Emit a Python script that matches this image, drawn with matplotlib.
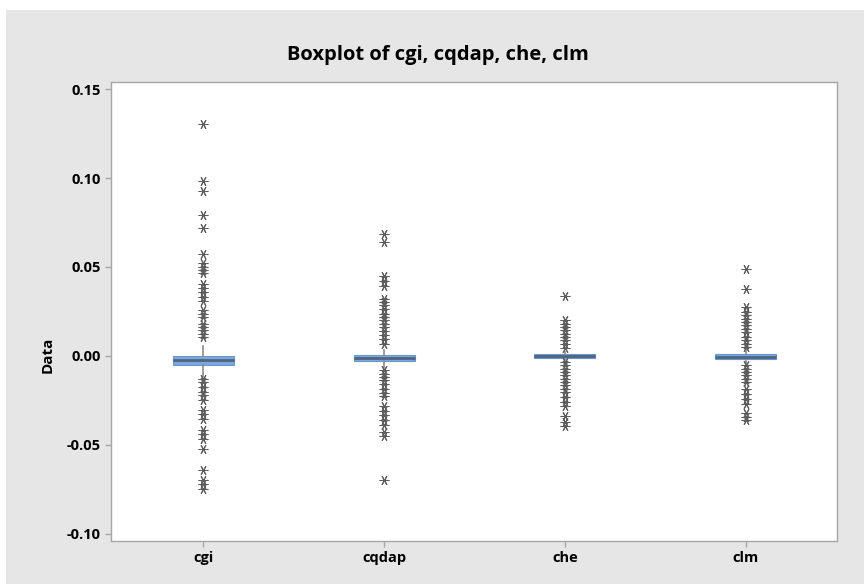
import matplotlib
matplotlib.use("Agg")
import matplotlib.pyplot as plt
from matplotlib.patches import Rectangle

# ----------------------------------------
# Данные
# ----------------------------------------

labels = ["cgi", "cqdap", "che", "clm"]

medians = [-0.0024, -0.0012, -0.0003, -0.0005]
q1_vals = [-0.0052, -0.0029, -0.0010, -0.0016]
q3_vals = [0.0000, 0.0007, 0.0008, 0.0012]
whisk_lo = [-0.0120, -0.0066, -0.0025, -0.0044]
whisk_hi = [0.0053, 0.0031, 0.0021, 0.0037]

fliers_cgi = [
    0.1307, 0.0984, 0.0926, 0.0795, 0.0720, 0.0575, 0.0523, 0.0500,
    0.0481, 0.0466, 0.0406, 0.0384, 0.0359, 0.0331, 0.0309, 0.0256,
    0.0238, 0.0219, 0.0181, 0.0162, 0.0144, 0.0125, 0.0106,
    -0.0129, -0.0147, -0.0175, -0.0204, -0.0222, -0.0250, -0.0307,
    -0.0326, -0.0354, -0.0416, -0.0438, -0.0466, -0.0526, -0.0645,
    -0.0697, -0.0723, -0.0748,
]
fliers_cqdap = [
    0.0684, 0.0641, 0.0448, 0.0421, 0.0391, 0.0322, 0.0303, 0.0284,
    0.0265, 0.0238, 0.0219, 0.0200, 0.0181, 0.0162, 0.0140, 0.0115,
    0.0097, 0.0069,
    -0.0082, -0.0100, -0.0119, -0.0138, -0.0160, -0.0185, -0.0209,
    -0.0228, -0.0284, -0.0311, -0.0335, -0.0363, -0.0391, -0.0429,
    -0.0453, -0.0701,
]
fliers_che = [
    0.0335, 0.0200, 0.0181, 0.0162, 0.0144, 0.0125, 0.0106, 0.0087,
    0.0069, 0.0044,
    -0.0035, -0.0053, -0.0072, -0.0091, -0.0110, -0.0128, -0.0147,
    -0.0166, -0.0185, -0.0204, -0.0232, -0.0260, -0.0284, -0.0341,
    -0.0373, -0.0397,
]
fliers_clm = [
    0.0487, 0.0378, 0.0275, 0.0247, 0.0228, 0.0209, 0.0190, 0.0172,
    0.0153, 0.0134, 0.0106, 0.0087, 0.0069, 0.0050,
    -0.0053, -0.0072, -0.0091, -0.0110, -0.0128, -0.0147, -0.0185,
    -0.0213, -0.0241, -0.0269, -0.0322, -0.0345, -0.0363,
]
fliers = [fliers_cgi, fliers_cqdap, fliers_che, fliers_clm]

y_ticks = [-0.10, -0.05, 0.00, 0.05, 0.10, 0.15]

# ----------------------------------------
# Рисунок
# ----------------------------------------

plt.rcParams["font.family"] = ["Open Sans", "DejaVu Sans"]

fig = plt.figure(figsize=(8.64, 5.84), dpi=100)
fig.patches.append(Rectangle((6 / 864, 0), 1, 1 - 10 / 584,
                             transform=fig.transFigure,
                             facecolor="#e6e6e6", edgecolor="none",
                             zorder=-10))

ax = fig.add_axes([0.1285, 0.0736, 0.8403, 0.786])

stats = []
for i, name in enumerate(labels):
    stats.append({
        "label": name,
        "med": medians[i],
        "q1": q1_vals[i],
        "q3": q3_vals[i],
        "whislo": whisk_lo[i],
        "whishi": whisk_hi[i],
        "fliers": fliers[i],
    })

ax.bxp(
    stats,
    positions=range(1, len(labels) + 1),
    widths=0.337,
    patch_artist=True,
    showcaps=False,
    boxprops=dict(facecolor="#7ba7dc", edgecolor="#6a96cc", linewidth=0.8),
    medianprops=dict(color="#4d6680", linewidth=2),
    whiskerprops=dict(color="#8c8c8c", linewidth=1.2),
    flierprops=dict(marker=(6, 2, 30), markersize=7,
                    markeredgecolor="#5e5e5e", markeredgewidth=0.75,
                    linestyle="none"),
)

ax.set_xlim(0.49, 4.505)
ax.set_ylim(-0.1042, 0.1541)
ax.set_yticks(y_ticks)
ax.set_yticklabels([f"{v:.2f}" for v in y_ticks])

for sp in ax.spines.values():
    sp.set_color("#a6a6a6")
    sp.set_linewidth(1)

ax.tick_params(axis="both", colors="#a6a6a6", length=4, width=1,
               labelcolor="black", labelsize=10.5)
for lbl in ax.get_xticklabels() + ax.get_yticklabels():
    lbl.set_fontweight("bold")

ax.set_ylabel("Data", fontsize=11, fontweight="bold")
ax.yaxis.set_label_coords(-0.078, 0.405)

fig.text(0.507, 0.906, "Boxplot of cgi, cqdap, che, clm",
         ha="center", va="center", fontsize=14.5, fontweight="bold")

fig.savefig("out.png", dpi=100)
plt.close(fig)
